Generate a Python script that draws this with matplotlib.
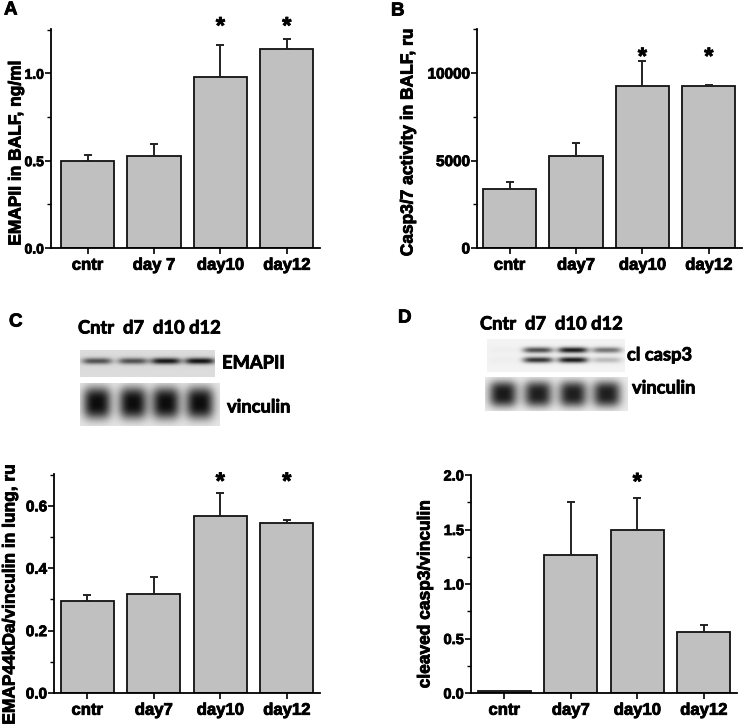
import numpy as np
import matplotlib
matplotlib.use("Agg")
import matplotlib.pyplot as plt
import matplotlib.patheffects as pe
from matplotlib.text import Text
from matplotlib.ticker import MultipleLocator, FormatStrFormatter

plt.rcParams["font.family"] = ["Liberation Sans", "DejaVu Sans"]
plt.rcParams["font.weight"] = "bold"

W, H = 744, 727

# ---- data ----
groups_a = ["cntr", "day 7", "day10", "day12"]
groups = ["cntr", "day7", "day10", "day12"]

emapii_balf = [0.500, 0.525, 0.977, 1.140]
emapii_balf_err = [0.032, 0.068, 0.184, 0.054]

casp_balf = [3366, 5241, 9272, 9272]
casp_balf_err = [384, 745, 1434, 74]

emap44_lung = [0.295, 0.318, 0.567, 0.545]
emap44_lung_err = [0.020, 0.054, 0.073, 0.010]

cl_casp3 = [0.016, 1.266, 1.498, 0.561]
cl_casp3_err = [0.006, 0.490, 0.294, 0.061]

# which groups carry a significance star
sig_a = [False, False, True, True]
sig_b = [False, False, True, True]
sig_c = [False, False, True, True]
sig_d = [False, False, True, False]

# western blot band strengths (0 = none, 1 = black)
emapii_bands = [0.55, 0.55, 0.78, 0.80]
vinc_c_bands = [0.85, 0.85, 0.85, 0.85]
casp3_upper = [0.02, 0.65, 0.85, 0.50]
casp3_lower = [0.02, 0.75, 0.85, 0.22]
vinc_d_bands = [0.82, 0.80, 0.80, 0.80]

fig = plt.figure(figsize=(W / 100, H / 100), dpi=100)


def px_axes(left, top, right, bottom):
    return fig.add_axes([left / W, 1 - bottom / H, (right - left) / W, (bottom - top) / H])


def bar_panel(ax, labels, vals, errs, sig, ylim, major, minor, fmt, ysize, xlim, star_y):
    x = np.arange(len(vals))
    ax.bar(x, vals, width=0.8, color="#c0c0c0", edgecolor="#111111", linewidth=1.3, zorder=2)
    ax.errorbar(x, vals, yerr=[np.zeros(len(errs)), errs], fmt="none", ecolor="#222222",
                elinewidth=1.4, capsize=3, capthick=1.4, zorder=3)
    ax.set_xlim(*xlim)
    ax.set_ylim(*ylim)
    ax.set_xticks(x, labels)
    ax.yaxis.set_major_locator(MultipleLocator(major))
    ax.yaxis.set_minor_locator(MultipleLocator(minor))
    ax.yaxis.set_major_formatter(FormatStrFormatter(fmt))
    for s in ["top", "right"]:
        ax.spines[s].set_visible(False)
    for s in ["left", "bottom"]:
        ax.spines[s].set_linewidth(1.3)
    ax.tick_params(axis="y", which="major", length=4, width=1.2, pad=1, labelsize=ysize)
    ax.tick_params(axis="y", which="minor", length=3, width=1.0)
    ax.tick_params(axis="x", length=4, width=1.2, pad=3, labelsize=12)
    ax.patch.set_visible(False)
    for i, s in enumerate(sig):
        if s:
            ax.annotate("*", (i, star_y), xytext=(0, -9), textcoords="offset points",
                        ha="center", va="baseline", fontsize=17, annotation_clip=False)


ax_a = px_axes(51, 29, 320, 248)
bar_panel(ax_a, groups_a, emapii_balf, emapii_balf_err, sig_a, (0, 1.253), 0.5, 0.25,
          "%.1f", 10, (-0.55, 3.5), 1.30)

ax_b = px_axes(477, 29, 742, 248)
bar_panel(ax_b, groups, casp_balf, casp_balf_err, sig_b, (0, 12520), 5000, 2500,
          "%d", 11, (-0.49, 3.5), 11240)

ax_c = px_axes(54, 474, 320, 693)
bar_panel(ax_c, groups, emap44_lung, emap44_lung_err, sig_c, (0, 0.702), 0.2, 0.1,
          "%.1f", 11, (-0.5, 3.5), 0.695)

ax_d = px_axes(471, 475, 737, 693)
bar_panel(ax_d, groups, cl_casp3, cl_casp3_err, sig_d, (0, 2.0), 0.5, 0.25,
          "%.1f", 10.5, (-0.5, 3.5), 1.985)

# overlay in pixel coordinates for labels and blots
ov = fig.add_axes([0, 0, 1, 1])
ov.set_xlim(0, W)
ov.set_ylim(H, 0)
ov.axis("off")


def blot(x0, x1, y0, y1, lanes_x, rows, bg, hw, hh, px=4, py=2):
    nx, ny = int(x1 - x0) * 2, int(y1 - y0) * 2
    X, Y = np.meshgrid(np.linspace(x0, x1, nx), np.linspace(y0, y1, ny))
    dark = np.zeros_like(X)
    for yc, amps in rows:
        for xc, a in zip(lanes_x, amps):
            dark += a * np.exp(-np.abs((X - xc) / hw) ** px - np.abs((Y - yc) / hh) ** py)
    img = np.clip(bg - dark, 0, 1)
    ov.imshow(img, cmap="gray", vmin=0, vmax=1, extent=(x0, x1, y1, y0),
              aspect="auto", interpolation="bilinear")


lanes_c = [97, 133, 166, 200]
blot(80, 215, 350, 377, lanes_c, [(361, emapii_bands)], 0.86, 15, 3.2)
blot(80, 220, 383, 426, lanes_c, [(403, vinc_c_bands)], 0.9, 14, 16, px=3, py=3)

lanes_d = [503, 538, 573, 607]
blot(487, 625, 339, 372, lanes_d, [(350, casp3_upper), (360, casp3_lower)], 0.95, 15, 3.0)
blot(485, 628, 377, 411, lanes_d, [(394, vinc_d_bands)], 0.92, 14, 13, px=3, py=3)

blot_font = dict(family=["Lato", "DejaVu Sans"], fontweight="bold", fontsize=13.2, va="center")
ov.text(78, 328, "Cntr  d7  d10 d12", ha="left", **blot_font)
ov.text(222, 363, "EMAPII", ha="left", **blot_font)
ov.text(227, 407, "vinculin", ha="left", **blot_font)
ov.text(480, 324, "Cntr  d7  d10 d12", ha="left", **blot_font)
ov.text(627, 355, "cl casp3", ha="left", **blot_font)
ov.text(632, 388, "vinculin", ha="left", **blot_font)

# panel letters
for x, y, s in [(4, 10, "A"), (391, 11, "B"), (9, 322, "C"), (398, 318, "D")]:
    ov.text(x, y, s, ha="left", va="center", fontsize=13.5)

# y axis titles
ylab = dict(rotation=90, ha="center", va="center", fontsize=12.5)
ov.text(16, 153, "EMAPII in BALF, ng/ml", **ylab)
ov.text(408, 142, "Casp3/7 activity in BALF, ru", **ylab)
ov.text(10, 594, "EMAP44kDa/vinculin in lung, ru", **ylab)
ov.text(425, 594, "cleaved casp3/vinculin", **ylab)

# the original print has heavy, slightly blurred type
for t in fig.findobj(Text):
    t.set_path_effects([pe.withStroke(linewidth=0.6, foreground="black")])

fig.savefig("out.png", dpi=100)
